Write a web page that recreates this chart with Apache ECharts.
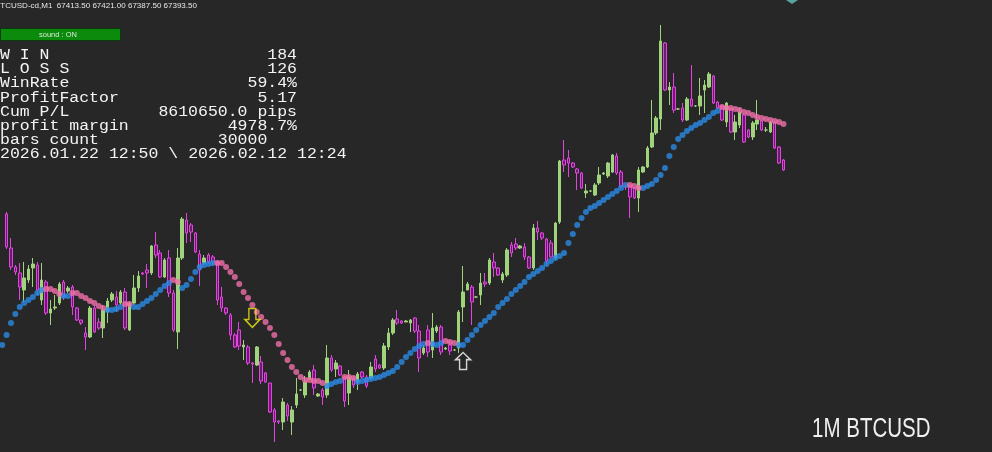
<!DOCTYPE html>
<html><head><meta charset="utf-8">
<script src="https://cdn.jsdelivr.net/npm/echarts@6/dist/echarts.min.js"></script>
<style>html,body{margin:0;padding:0;background:#272727;}#c{width:992px;height:452px;}</style>
</head><body><div id="c"></div>
<script>
// ---- data (BTCUSD M1) ; first entry = partially hidden bar at the left edge ----
const openP = [null,
67346,67312,67293,67287,67270,67280,67292,67295,67260,67278,67247,67252,67257,67278,67269,67273,67252,67240,67227,67223,
67252,67238,67232,67248,67260,67263,67257,67268,67230,67257,67272,67287,67290,67287,67315,67307,67283,67302,67267,67228,
67302,67340,67335,67327,67306,67297,67305,67303,67298,67263,67252,67245,67225,67230,67213,67213,67197,67195,67198,67187,
67177,67150,67139,67138,67155,67138,67155,67170,67165,67181,67190,67164,67170,67165,67202,67191,67194,67183,67167,67182,
67178,67188,67183,67182,67201,67195,67192,67213,67227,67241,67239,67238,67237,67242,67229,67207,67230,67210,67229,67233,
67211,67215,67210,67212,67253,67270,67273,67263,67265,67278,67277,67298,67292,67280,67285,67315,67316,67312,67313,67303,
67292,67332,67327,67321,67317,67302,67338,67400,67402,67397,67391,67387,67367,67369,67365,67377,67386,67384,67388,67404,
67388,67373,67374,67372,67362,67388,67393,67413,67427,67441,67517,67470,67473,67451,67452,67440,67461,67454,67454,67470,
67473,67484,67458,67454,67438,67451,67428,67435,67445,67430,67423,67436,67439,67430,67428,67438,67413,67400];
const closeP = [null,
67313,67293,67288,67273,67282,67291,67296,67270,67280,67247,67251,67253,67276,67263,67272,67253,67240,67237,67223,67252,
67228,67232,67250,67259,67266,67255,67268,67232,67257,67272,67284,67286,67287,67314,67305,67283,67300,67267,67230,67302,
67341,67327,67328,67308,67290,67302,67298,67298,67260,67252,67247,67225,67213,67214,67215,67197,67196,67213,67179,67178,
67148,67138,67138,67158,67144,67150,67166,67170,67178,67188,67172,67166,67163,67202,67190,67197,67185,67159,67183,67175,
67186,67183,67174,67193,67191,67192,67214,67227,67240,67237,67237,67239,67240,67229,67202,67212,67208,67232,67233,67208,
67212,67209,67210,67248,67268,67276,67258,67263,67277,67276,67300,67292,67285,67286,67310,67307,67312,67314,67303,67292,
67332,67328,67322,67299,67303,67337,67399,67395,67397,67393,67387,67372,67369,67369,67375,67385,67387,67397,67405,67387,
67374,67373,67363,67362,67390,67393,67412,67427,67442,67519,67470,67473,67450,67451,67440,67461,67454,67454,67464,67475,
67486,67457,67452,67440,67457,67428,67438,67448,67418,67423,67437,67440,67430,67430,67438,67412,67397,67390];
const highP = [null,
67348,67322,67295,67297,67298,67295,67302,67298,67297,67280,67260,67265,67278,67280,67274,67275,67253,67240,67233,67254,
67255,67242,67255,67262,67268,67269,67270,67272,67258,67285,67289,67288,67296,67315,67328,67310,67302,67310,67270,67312,
67343,67347,67337,67328,67310,67305,67307,67305,67300,67273,67253,67247,67227,67238,67220,67215,67198,67214,67204,67188,
67177,67152,67140,67162,67157,67154,67182,67171,67184,67190,67195,67167,67172,67215,67205,67200,67195,67184,67190,67184,
67188,67189,67185,67198,67205,67196,67217,67232,67242,67250,67240,67240,67241,67243,67235,67215,67235,67247,67235,67235,
67213,67220,67211,67250,67294,67278,67275,67264,67287,67287,67302,67307,67293,67288,67312,67318,67322,67315,67317,67304,
67336,67339,67328,67322,67320,67338,67400,67420,67410,67398,67392,67388,67376,67370,67377,67393,67388,67398,67406,67407,
67390,67375,67375,67373,67393,67394,67414,67460,67444,67535,67518,67478,67487,67452,67457,67463,67495,67455,67482,67480,
67488,67485,67459,67455,67458,67452,67445,67452,67446,67431,67439,67460,67440,67433,67439,67439,67414,67401];
const lowP = [null,
67311,67290,67285,67260,67258,67277,67273,67265,67255,67245,67235,67250,67255,67260,67267,67245,67239,67235,67210,67222,
67227,67230,67222,67237,67258,67248,67255,67230,67229,67255,67268,67285,67272,67285,67302,67282,67282,67263,67228,67211,
67300,67317,67318,67307,67274,67295,67296,67294,67255,67248,67245,67220,67212,67210,67200,67195,67177,67194,67176,67177,
67147,67118,67136,67130,67139,67125,67152,67169,67162,67180,67165,67163,67155,67162,67188,67183,67184,67153,67155,67172,
67170,67182,67172,67180,67188,67191,67190,67210,67225,67235,67236,67238,67228,67227,67188,67205,67203,67202,67227,67205,
67210,67205,67209,67207,67238,67270,67235,67262,67255,67273,67275,67283,67284,67277,67283,67303,67310,67311,67300,67291,
67290,67320,67320,67295,67302,67300,67336,67388,67383,67392,67370,67371,67362,67368,67364,67375,67385,67382,67387,67385,
67372,67370,67342,67361,67348,67387,67392,67412,67425,67430,67469,67455,67447,67450,67438,67439,67453,67453,67445,67447,
67472,67456,67451,67439,67433,67427,67420,67432,67417,67422,67420,67430,67429,67428,67427,67411,67396,67389];
// dotted trend line, one value per bar
const trendLine = [67215,
67225,67237,67246,67253,67257,67260,67263,67267,67270,67271,67271,67269,67266,67264,67264,67267,67267,67264,67262,67259,
67257,67254,67252,67250,67250,67251,67253,67256,67256,67253,67253,67256,67259,67262,67266,67270,67274,67277,67280,67278,
67272,67275,67281,67288,67293,67295,67296,67297,67297,67297,67293,67288,67283,67276,67268,67262,67255,67248,67243,67238,
67232,67225,67216,67207,67200,67193,67188,67183,67180,67180,67179,67179,67177,67174,67176,67178,67179,67183,67183,67182,
67178,67179,67180,67181,67182,67183,67185,67187,67189,67193,67198,67203,67207,67211,67214,67216,67217,67216,67215,67217,
67219,67218,67217,67215,67215,67220,67225,67230,67235,67239,67243,67247,67253,67257,67261,67266,67270,67274,67278,67283,
67286,67289,67292,67296,67299,67302,67304,67307,67317,67326,67335,67342,67348,67352,67354,67357,67360,67363,67366,67369,
67372,67375,67375,67374,67372,67372,67374,67376,67380,67385,67392,67404,67413,67421,67425,67429,67432,67435,67437,67440,
67443,67447,67449,67453,67452,67452,67451,67450,67448,67447,67445,67443,67442,67441,67440,67439,67438,67436];
// bar ranges (inclusive) where the trend line is shown in its "down" colour
const downRanges = [[10,13],[16,23],[28,29],[39,40],[49,73],[78,80],[97,97],[101,103],[143,145],[164,178]];
// signal arrows: [bar index, price]
const sellSignals = [[57, 67242]];
const buySignals = [[105, 67199]];
// text panel
const headerText = 'BTCUSD-cd,M1  67413.50 67421.00 67387.50 67393.50';
const switchText = 'sound : ON';
const statLabels = ['W I N', 'L O S S', 'WinRate', 'ProfitFactor', 'Cum P/L', 'profit margin', 'bars count'];
const statValues = ['184', '126', '59.4%', '5.17', '8610650.0 pips', '4978.7%', '30000   '];
const periodText = '2026.01.22 12:50 \\ 2026.02.12 12:24';
const symbolText = '1M BTCUSD';

// ---- build ----
const TOTAL = 226; // visible slots incl. empty right margin
const categories = [];
for (let i = 0; i < TOTAL; i++) {
  const m = 9 * 60 + 46 + i; // minute labels
  categories.push(String(Math.floor(m / 60) % 24).padStart(2, '0') + ':' + String(m % 60).padStart(2, '0'));
}
const candleData = openP.map((o, i) => o == null ? ['-', '-', '-', '-'] : [o, closeP[i], lowP[i], highP[i]]);
const isDown = i => downRanges.some(r => i >= r[0] && i <= r[1]);
const upDots = trendLine.map((v, i) => isDown(i) ? '-' : v);
const downDots = trendLine.map((v, i) => isDown(i) ? v : '-');

const chart = echarts.init(document.getElementById('c'), null, {renderer: 'canvas'});
const mono = '"Liberation Mono", "DejaVu Sans Mono", monospace';
const graphics = [
  {type: 'text', x: -5, y: 6, style: {text: headerText, font: '8px "Liberation Sans", Arial, sans-serif', fill: '#e6e6e6', align: 'left', verticalAlign: 'middle'}},
  {type: 'rect', shape: {x: 0.5, y: 28.5, width: 120, height: 12}, style: {fill: '#0b8a0b', stroke: '#0a3a0a', lineWidth: 1}},
  {type: 'text', x: 58, y: 34.5, style: {text: switchText, font: '7.5px "Liberation Sans", Arial, sans-serif', fill: '#d8e8d8', align: 'center', verticalAlign: 'middle'}},
  {type: 'polygon', shape: {points: [[786, 0], [798, 0], [792, 4]]}, style: {fill: '#5aa3a3'}}
];
const statStyle = {font: '16.5px ' + mono, fill: '#f4f4f4', verticalAlign: 'middle'};
statLabels.forEach((lab, k) => {
  const y = 55 + k * 14.2;
  graphics.push({type: 'text', x: 0, y: y, scaleY: 0.9, style: Object.assign({text: lab, align: 'left'}, statStyle)});
  graphics.push({type: 'text', x: 297, y: y, scaleY: 0.9, style: Object.assign({text: statValues[k], align: 'right'}, statStyle)});
});
graphics.push({type: 'text', x: 0, y: 55 + 7 * 14.2, scaleY: 0.9, style: Object.assign({text: periodText, align: 'left'}, statStyle)});
graphics.push({type: 'text', x: 812, y: 430, scaleX: 0.76, style: {text: symbolText, font: '27px "Liberation Sans", Arial, sans-serif', fill: '#f0f0f0', align: 'left', verticalAlign: 'middle'}});

chart.setOption({
  backgroundColor: '#272727',
  animation: false,
  grid: {left: -4, top: 0, width: 999, height: 452, containLabel: false},
  xAxis: {type: 'category', data: categories, boundaryGap: true, show: false},
  yAxis: {type: 'value', min: 67108, max: 67560, show: false, splitLine: {show: false}},
  graphic: graphics,
  series: [
    {type: 'candlestick', data: candleData, barWidth: 3, clip: false,
     itemStyle: {color: '#9fd47c', borderColor: '#9fd47c', color0: '#6c1a6e', borderColor0: '#e244e2', borderWidth: 1}},
    {type: 'scatter', data: upDots, symbol: 'circle', symbolSize: 6, itemStyle: {color: '#2a8be6'}, z: 3},
    {type: 'scatter', data: downDots, symbol: 'circle', symbolSize: 6, itemStyle: {color: '#f06fa9'}, z: 3},
    {type: 'scatter', data: sellSignals, symbol: 'path://M4,0 L11,0 L11,11 L15,11 L7.5,19 L0,11 L4,11 Z', symbolSize: [15, 19],
     itemStyle: {color: 'rgba(0,0,0,0)', borderColor: '#f5f010', borderWidth: 1.5}, z: 4},
    {type: 'scatter', data: buySignals, symbol: 'path://M7.5,0 L15,8 L11,8 L11,19 L4,19 L4,8 L0,8 Z', symbolSize: [15, 17],
     itemStyle: {color: 'rgba(0,0,0,0)', borderColor: '#ffffff', borderWidth: 1.5}, z: 4}
  ]
});
</script></body></html>
